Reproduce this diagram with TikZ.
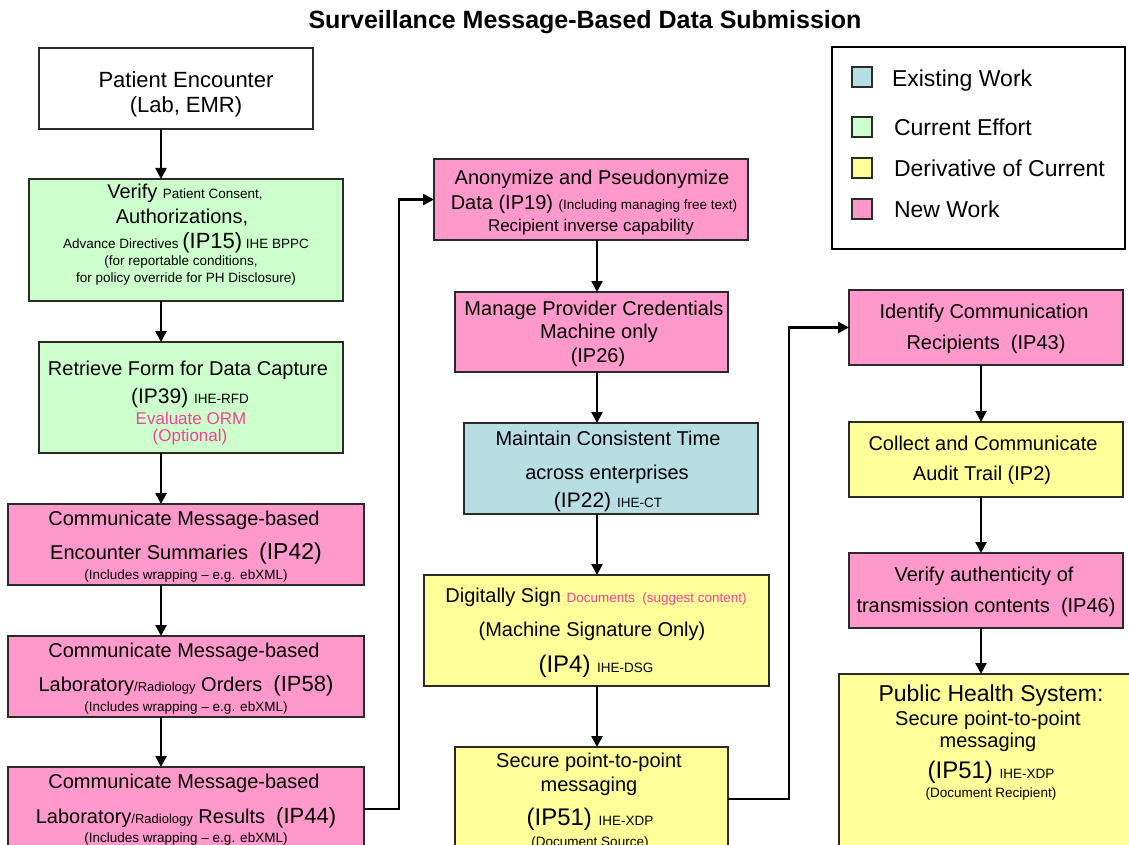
\documentclass[tikz,border=0pt]{standalone}
\usepackage{fontspec}
\setmainfont{Liberation Sans}
\usetikzlibrary{arrows.meta}

\definecolor{cgreen}{HTML}{CCFFCC}
\definecolor{cpink}{HTML}{FF99CC}
\definecolor{cyellow}{HTML}{FFFF99}
\definecolor{cteal}{HTML}{B7DFE3}
\definecolor{ptext}{HTML}{F0449A}
\definecolor{boxline}{HTML}{2A2A2A}

% font size in px-like points
\newcommand\fsz[1]{\fontsize{#1}{#1}\selectfont}
% box from its corners: name, fill, left, top, right, bottom
\newcommand\flowbox[6]{%
  \node[box, fill=#2, minimum width={(#5)-(#3)}, minimum height={(#6)-(#4)}]
    (#1) at ({((#3)+(#5))/2},{((#4)+(#6))/2}) {};}

\begin{document}
\begin{tikzpicture}[x=1pt, y=-1pt,
  box/.style={draw=boxline, line width=1.4pt, rectangle, inner sep=0pt, outer sep=0pt},
  lbl/.style={anchor=base, inner sep=0pt, outer sep=0pt},
  key/.style={draw=boxline, line width=1.2pt, rectangle, inner sep=0pt, minimum size=20pt},
  link/.style={line width=2.5pt, draw=black, -{Triangle[length=11pt,width=11pt]}}]

\useasboundingbox (0,0) rectangle (1129,845);
\fill[white] (0,0) rectangle (1129,845);

% title
\node[lbl] (title) at (585,29) {\fsz{25}\bfseries Surveillance Message-Based Data Submission};

% legend
\node[draw=black, line width=1.2pt, fill=white, minimum width=293pt, minimum height=202pt, inner sep=0pt]
  (legend) at (978.5,148) {};
\node[key, fill=cteal]   (k1) at (862,77)  {};
\node[key, fill=cgreen]  (k2) at (862,127) {};
\node[key, fill=cyellow] (k3) at (862,168) {};
\node[key, fill=cpink]   (k4) at (862,209) {};
\node[lbl, anchor=base west] (k1t) at (892,87)  {\fsz{23}Existing Work};
\node[lbl, anchor=base west] (k2t) at (894,136) {\fsz{23}Current Effort};
\node[lbl, anchor=base west] (k3t) at (894,177) {\fsz{23}Derivative of Current};
\node[lbl, anchor=base west] (k4t) at (894,217) {\fsz{23}New Work};

% left column
\flowbox{pe}{white}{39}{48}{313}{129}
\node[lbl] (pe1) at (186,88)  {\fsz{22}Patient Encounter};
\node[lbl] (pe2) at (186,113) {\fsz{22}(Lab, EMR)};

\flowbox{ver}{cgreen}{29}{179}{343}{301}
\node[lbl] (ver1) at (185,199) {\fsz{20}Verify {\fsz{13.5}Patient Consent,}};
\node[lbl] (ver2) at (182,223) {\fsz{20}Authorizations,};
\node[lbl] (ver3) at (186,248) {\fsz{13.5}Advance Directives {\fsz{22}(IP15)} IHE BPPC};
\node[lbl] (ver4) at (181,265) {\fsz{13.5}(for reportable conditions,};
\node[lbl] (ver5) at (186,282) {\fsz{13.5}for policy override for PH Disclosure)};

\flowbox{ret}{cgreen}{39}{342}{343}{453}
\node[lbl] (ret1) at (188,375) {\fsz{20}Retrieve Form for Data Capture};
\node[lbl] (ret2) at (190,403) {\fsz{21}(IP39) {\fsz{13.5}IHE-RFD}};
\node[lbl] (ret3) at (191,424) {\color{ptext}\fsz{17}Evaluate ORM};
\node[lbl] (ret4) at (190,441) {\color{ptext}\fsz{17}(Optional)};

\flowbox{ce}{cpink}{8}{504}{364}{585}
\node[lbl] (ce1) at (184,525) {\fsz{20}Communicate Message-based};
\node[lbl] (ce2) at (186,559) {\fsz{20}Encounter Summaries\ \ {\fsz{23}(IP42)}};
\node[lbl] (ce3) at (186,579) {\fsz{13.5}(Includes wrapping -- e.g. ebXML)};

\flowbox{lo}{cpink}{8}{636}{364}{717}
\node[lbl] (lo1) at (184,657) {\fsz{20}Communicate Message-based};
\node[lbl] (lo2) at (186,691) {\fsz{20}Laboratory{\fsz{13}/Radiology} Orders\ \ {\fsz{22}(IP58)}};
\node[lbl] (lo3) at (186,711) {\fsz{13.5}(Includes wrapping -- e.g. ebXML)};

\flowbox{lr}{cpink}{8}{767}{364}{851}
\node[lbl] (lr1) at (184,788) {\fsz{20}Communicate Message-based};
\node[lbl] (lr2) at (186,823) {\fsz{20}Laboratory{\fsz{13}/Radiology} Results\ \ {\fsz{22}(IP44)}};
\node[lbl] (lr3) at (186,842) {\fsz{13.5}(Includes wrapping -- e.g. ebXML)};

% middle column
\flowbox{ano}{cpink}{434}{159}{748}{240}
\node[lbl] (ano1) at (592,185) {\fsz{20}Anonymize and Pseudonymize};
\node[lbl] (ano2) at (594,210) {\fsz{20}Data (IP19) {\fsz{13.5}(Including managing free text)}};
\node[lbl] (ano3) at (591,231) {\fsz{17}Recipient inverse capability};

\flowbox{man}{cpink}{455}{292}{728}{372}
\node[lbl] (man1) at (594,315) {\fsz{20}Manage Provider Credentials};
\node[lbl] (man2) at (599,338) {\fsz{20}Machine only};
\node[lbl] (man3) at (598,362) {\fsz{20}(IP26)};

\flowbox{mai}{cteal}{464}{423}{758}{514}
\node[lbl] (mai1) at (608,445) {\fsz{20}Maintain Consistent Time};
\node[lbl] (mai2) at (607,479) {\fsz{20}across enterprises};
\node[lbl] (mai3) at (608,507) {\fsz{21}(IP22) {\fsz{13.5}IHE-CT}};

\flowbox{dig}{cyellow}{424}{575}{769}{686}
\node[lbl] (dig1) at (596,602) {\fsz{20}Digitally Sign {\color{ptext}\fsz{13.5}Documents\ \ (suggest content)}};
\node[lbl] (dig2) at (592,636) {\fsz{20}(Machine Signature Only)};
\node[lbl] (dig3) at (596,672) {\fsz{24}(IP4)\ {\fsz{13.5}IHE-DSG}};

\flowbox{sec}{cyellow}{455}{747}{728}{851}
\node[lbl] (sec1) at (589,767) {\fsz{20}Secure point-to-point};
\node[lbl] (sec2) at (589,791) {\fsz{20}messaging};
\node[lbl] (sec3) at (590,825) {\fsz{24}(IP51)\ {\fsz{13.5}IHE-XDP}};
\node[lbl] (sec4) at (590,846) {\fsz{13.5}(Document Source)};

% right column
\flowbox{ide}{cpink}{849}{290}{1123}{365}
\node[lbl] (ide1) at (984,318) {\fsz{20}Identify Communication};
\node[lbl] (ide2) at (986,349) {\fsz{20}Recipients\ \ (IP43)};

\flowbox{col}{cyellow}{849}{422}{1123}{497}
\node[lbl] (col1) at (983,450) {\fsz{20}Collect and Communicate};
\node[lbl] (col2) at (982,480) {\fsz{20}Audit Trail (IP2)};

\flowbox{vau}{cpink}{849}{553}{1123}{628}
\node[lbl] (vau1) at (984,581) {\fsz{20}Verify authenticity of};
\node[lbl] (vau2) at (986,612) {\fsz{20}transmission contents\ \ (IP46)};

\flowbox{ph}{cyellow}{839}{674}{1135}{855}
\node[lbl] (ph1) at (991,701) {\fsz{23}Public Health System:};
\node[lbl] (ph2) at (988,725) {\fsz{20}Secure point-to-point};
\node[lbl] (ph3) at (988,747) {\fsz{20}messaging};
\node[lbl] (ph4) at (991,778) {\fsz{24}(IP51)\ {\fsz{13.5}IHE-XDP}};
\node[lbl] (ph5) at (991,797) {\fsz{13.5}(Document Recipient)};

% connectors
\coordinate (colL) at (161,0);
\coordinate (colM) at (597,0);
\coordinate (colR) at (981,0);
\coordinate (bendA) at (399,0);
\coordinate (bendB) at (789,0);

\draw[link] (colL |- pe.south)  -- (colL |- ver.north);
\draw[link] (colL |- ver.south) -- (colL |- ret.north);
\draw[link] (colL |- ret.south) -- (colL |- ce.north);
\draw[link] (colL |- ce.south)  -- (colL |- lo.north);
\draw[link] (colL |- lo.south)  -- (colL |- lr.north);

\draw[link] (lr.east) -- (lr.east -| bendA) |- (ano.west);

\draw[link] (colM |- ano.south) -- (colM |- man.north);
\draw[link] (colM |- man.south) -- (colM |- mai.north);
\draw[link] (colM |- mai.south) -- (colM |- dig.north);
\draw[link] (colM |- dig.south) -- (colM |- sec.north);

\draw[link] (sec.east) -- (sec.east -| bendB) |- (ide.west);

\draw[link] (colR |- ide.south) -- (colR |- col.north);
\draw[link] (colR |- col.south) -- (colR |- vau.north);
\draw[link] (colR |- vau.south) -- (colR |- ph.north);
\end{tikzpicture}
\end{document}
